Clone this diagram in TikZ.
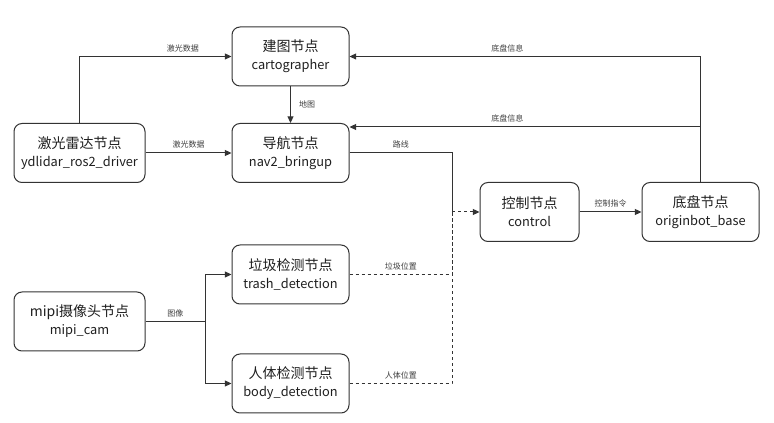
\documentclass[tikz,border=0pt]{standalone}
\usepackage{fontspec}
\setmainfont{Noto Sans CJK SC}
\usetikzlibrary{arrows.meta}
\def\nodetext#1#2{#1\\{\fontsize{9.6}{13.5}\selectfont #2}}

\begin{document}
\begin{tikzpicture}[x=0.75pt, y=-0.75pt,
	box/.style={draw=black!80, line width=0.75pt, rounded corners=6pt, minimum width=87.75pt, minimum height=44.25pt, inner sep=0pt, align=center, text=black!88, font=\fontsize{10.5}{13.5}\selectfont},
	wide/.style={box, minimum width=98.25pt},
	lbl/.style={font=\fontsize{6}{7}\selectfont, text=black!75, inner sep=3pt},
	link/.style={draw=black!80, line width=0.75pt},
	arr/.style={link, -{Triangle[length=5pt, width=4.5pt]}},
	dotline/.style={dash pattern=on 2.5pt off 2pt}]
			%%%%% START %%%%%
			
			\fill[white] (0, 0) rectangle (774, 423);
			\useasboundingbox (0, 0) rectangle (774, 423);
			
			\node[box] (carto) at (290.5, 56.5) {\nodetext{建图节点}{cartographer}};
			\node[wide] (lidar) at (79.5, 153) {\nodetext{激光雷达节点}{ydlidar\_ros2\_driver}};
			\node[box] (nav) at (290.5, 153) {\nodetext{导航节点}{nav2\_bringup}};
			\node[box, minimum width=74.25pt] (ctrl) at (529.5, 212) {\nodetext{控制节点}{control}};
			\node[box] (base) at (700.5, 212) {\nodetext{底盘节点}{originbot\_base}};
			\node[box] (trash) at (290.5, 274.5) {\nodetext{垃圾检测节点}{trash\_detection}};
			\node[wide] (mipi) at (79.5, 321.5) {\nodetext{mipi摄像头节点}{mipi\_cam}};
			\node[box] (body) at (290.5, 383.5) {\nodetext{人体检测节点}{body\_detection}};
			
			\coordinate (join) at (452, 212);
			\coordinate (fork) at (205, 321.5);
			
			\draw[arr] (lidar.north) |- node[lbl, above, pos=0.84] {激光数据} (carto.west);
			\draw[arr] (lidar.east) -- node[lbl, above] {激光数据} (nav.west);
			\draw[arr] (carto.south) -- node[lbl, right=3pt] {地图} (nav.north);
			
			\draw[arr] (base.north) |- node[lbl, above, pos=0.775] {底盘信息} (carto.east);
			\draw[arr] (base.north) |- node[lbl, above, pos=0.775] {底盘信息} ([yshift=-3pt]nav.north east);
			
			\draw[link] (nav.east) -| node[lbl, above, pos=0.25] {路线} (join);
			\draw[arr, dotline] (join) -- (ctrl.west);
			\draw[link, dotline] (trash.east) -| node[lbl, above, pos=0.25] {垃圾位置} (join);
			\draw[link, dotline] (body.east) -| node[lbl, above, pos=0.25] {人体位置} (join);
			\draw[arr] (ctrl.east) -- node[lbl, above] {控制指令} (base.west);
			
			\draw[link] (mipi.east) -- node[lbl, above] {图像} (fork);
			\draw[arr] (fork) |- (trash.west);
			\draw[arr] (fork) |- (body.west);
			
			%%%%% END %%%%%
		\end{tikzpicture}
\end{document}
